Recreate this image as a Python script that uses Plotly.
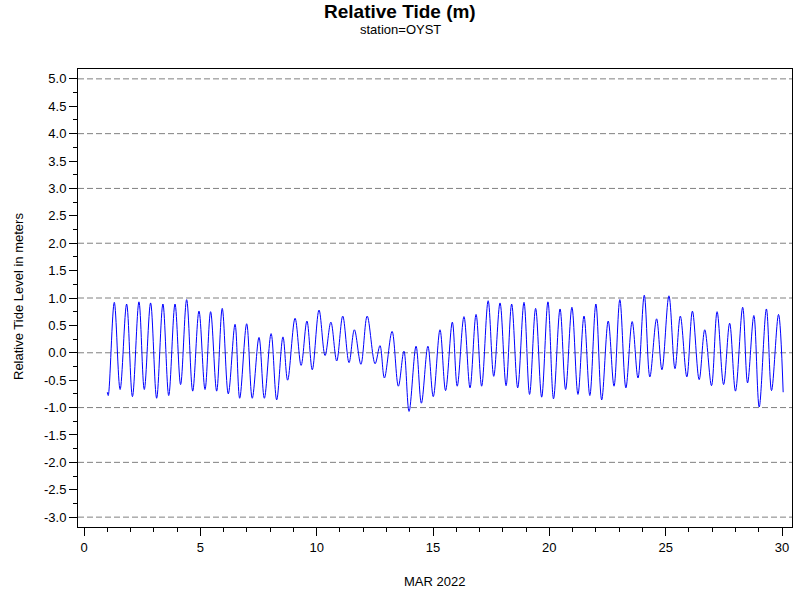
import plotly.graph_objects as go

# Tide extrema (day of March 2022, metres)
tide_day = [1.00, 1.04, 1.30, 1.55, 1.83, 2.08, 2.36, 2.59, 2.86, 3.12,
            3.39, 3.64, 3.91, 4.15, 4.41, 4.67, 4.94, 5.20, 5.44, 5.70,
            5.94, 6.20, 6.49, 6.69, 6.99, 7.23, 7.52, 7.75, 8.04, 8.28,
            8.55, 8.75, 9.07, 9.33, 9.58, 9.81, 10.10, 10.36, 10.61, 10.86,
            11.12, 11.39, 11.62, 11.90, 12.17, 12.51, 12.72, 12.91, 13.24, 13.51,
            13.75, 13.97, 14.27, 14.50, 14.78, 15.01, 15.30, 15.54, 15.83, 16.04,
            16.33, 16.59, 16.85, 17.09, 17.37, 17.61, 17.88, 18.14, 18.38, 18.64,
            18.91, 19.15, 19.41, 19.67, 19.94, 20.18, 20.46, 20.70, 20.97, 21.23,
            21.49, 21.74, 22.00, 22.25, 22.53, 22.78, 23.03, 23.29, 23.56, 23.81,
            24.08, 24.32, 24.61, 24.84, 25.14, 25.40, 25.63, 25.91, 26.15, 26.44,
            26.68, 26.97, 27.21, 27.49, 27.75, 28.00, 28.31, 28.52, 28.79, 29.02,
            29.33, 29.55, 29.85, 30.05]

tide_level = [-0.72, -0.78, 0.92, -0.67, 0.89, -0.80, 0.93, -0.67, 0.91, -0.83,
              0.89, -0.78, 0.89, -0.58, 0.97, -0.70, 0.76, -0.67, 0.75, -0.70,
              0.81, -0.75, 0.52, -0.83, 0.53, -0.83, 0.28, -0.83, 0.35, -0.86,
              0.29, -0.50, 0.63, -0.23, 0.58, -0.31, 0.78, -0.05, 0.56, -0.15,
              0.67, -0.18, 0.42, -0.21, 0.67, -0.20, 0.13, -0.46, 0.39, -0.61,
              0.03, -1.07, 0.12, -0.92, 0.12, -0.80, 0.42, -0.69, 0.56, -0.61,
              0.66, -0.64, 0.70, -0.61, 0.95, -0.43, 0.91, -0.60, 0.89, -0.64,
              0.92, -0.76, 0.81, -0.81, 0.93, -0.84, 0.80, -0.67, 0.83, -0.76,
              0.67, -0.78, 0.89, -0.86, 0.58, -0.61, 0.97, -0.64, 0.57, -0.46,
              1.05, -0.44, 0.62, -0.31, 1.04, -0.29, 0.67, -0.44, 0.76, -0.49,
              0.42, -0.60, 0.75, -0.58, 0.54, -0.70, 0.83, -0.55, 0.68, -0.99,
              0.80, -0.69, 0.70, -0.72]

y_tick_values = [5.0, 4.5, 4.0, 3.5, 3.0, 2.5, 2.0, 1.5, 1.0, 0.5, 0.0,
                 -0.5, -1.0, -1.5, -2.0, -2.5, -3.0]
y_tick_labels = ["5.0", "4.5", "4.0", "3.5", "3.0", "2.5", "2.0", "1.5", "1.0", "0.5", "0.0",
                 "-0.5", "-1.0", "-1.5", "-2.0", "-2.5", "-3.0"]
grid_levels = [5, 4, 3, 2, 1, 0, -1, -2, -3]
x_tick_values = [0, 5, 10, 15, 20, 25, 30]

FONT = "Liberation Sans, Arial, Helvetica, sans-serif"

W, H = 800, 600
ML, MR, MT, MB = 78, 8, 69, 73
plot_w = W - ML - MR
plot_h = H - MT - MB


def px_x(page_x):
    return (page_x - ML) / plot_w


def px_y(page_y):
    return (H - MB - page_y) / plot_h


fig = go.Figure()
fig.add_trace(go.Scatter(
    x=tide_day, y=tide_level, mode="lines",
    line=dict(color="#0000ff", width=1, shape="spline", smoothing=1.0),
    showlegend=False,
))

for g in grid_levels:
    fig.add_shape(type="line", xref="paper", yref="y", x0=0, x1=1, y0=g, y1=g,
                  line=dict(color="#808080", width=1, dash="6px,3px"), layer="below")

fig.update_layout(
    width=W, height=H,
    margin=dict(l=ML, r=MR, t=MT, b=MB, autoexpand=False),
    paper_bgcolor="white", plot_bgcolor="white",
    font=dict(family=FONT, size=13, color="black"),
    annotations=[
        dict(text="<b>Relative Tide (m)</b>", x=px_x(400), y=px_y(11),
             xref="paper", yref="paper", yanchor="middle",
             showarrow=False, font=dict(size=19, family=FONT)),
        dict(text="station=OYST", x=px_x(400), y=px_y(30),
             xref="paper", yref="paper", yanchor="middle",
             showarrow=False, font=dict(size=13, family=FONT)),
        dict(text="Relative Tide Level in meters", textangle=-90,
             x=px_x(18), y=px_y(297), xref="paper", yref="paper",
             xanchor="center", yanchor="middle", showarrow=False, font=dict(size=13, family=FONT)),
        dict(text="MAR 2022", x=px_x(434), y=px_y(581),
             xref="paper", yref="paper", xanchor="center", yanchor="middle",
             showarrow=False, font=dict(size=13, family=FONT)),
    ],
)

fig.update_xaxes(
    range=[-0.26, 30.43], tickvals=x_tick_values, ticks="outside", ticklen=8,
    tickcolor="black", showgrid=False, zeroline=False, showline=True, linecolor="black",
    linewidth=1, mirror=True, automargin=False,
    minor=dict(dtick=1, ticks="outside", ticklen=4, tickcolor="black", showgrid=False),
    tickfont=dict(size=13),
)
fig.update_yaxes(
    range=[-3.18, 5.18], tickvals=y_tick_values, ticktext=y_tick_labels,
    ticks="outside", ticklen=8, tickcolor="black", showgrid=False, zeroline=False,
    showline=True, linecolor="black", linewidth=1, mirror=True, automargin=False,
    minor=dict(dtick=0.25, ticks="outside", ticklen=4, tickcolor="black", showgrid=False),
    tickfont=dict(size=13),
)

fig.write_html("out.html", config={"displayModeBar": False},
               post_script="document.body.style.margin='0';")
